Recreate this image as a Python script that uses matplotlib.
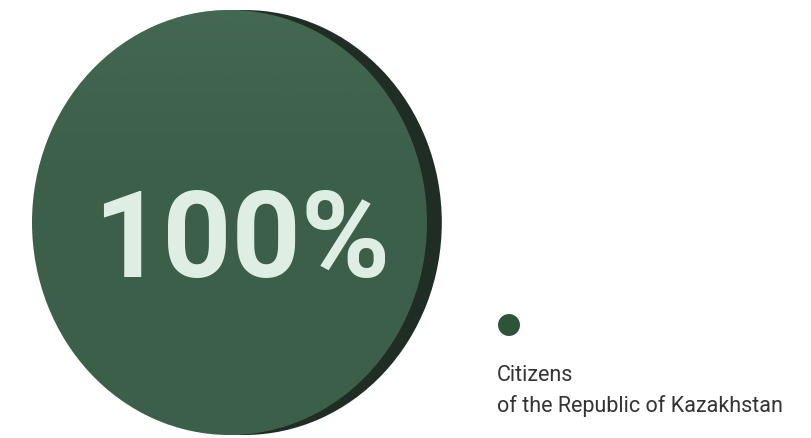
import matplotlib
matplotlib.use("Agg")
import matplotlib.pyplot as plt
import numpy as np

# share of residents by citizenship
categories = ["Citizens", "of the Republic of Kazakhstan"]
shares = [100]
value_labels = ["100%"]

face_color = "#3c5f49"
side_color = "#1f2d24"
dot_color = "#2d5438"

plt.rcParams['font.family'] = ['Roboto', 'DejaVu Sans']

fig = plt.figure(figsize=(8.11, 4.38), dpi=100)

# pie axes sized to the disc, so the unit radius becomes a slightly tall ellipse
ax = fig.add_axes([32 / 811, 3 / 438, 395 / 811, 425 / 438])
ax.set_xlim(-1, 1)
ax.set_ylim(-1, 1)
ax.set_aspect('auto')
ax.axis('off')

# dark extruded rim, offset to the right
side, _ = ax.pie(shares, colors=[side_color], center=(0.075, 0.0), radius=1.0,
                 startangle=90, frame=False)
for w in side:
    w.set_clip_on(False)

wedges, _ = ax.pie(shares, colors=[face_color], radius=1.0, startangle=90,
                   frame=False)
for w in wedges:
    w.set_clip_on(False)

# soft vertical shading on the face
grad = np.linspace(0, 1, 256)
shade = np.clip(1 - grad * 2.2, 0, 1) ** 1.5
img = np.zeros((256, 1, 4))
img[:, 0, 0] = 0x4a / 255
img[:, 0, 1] = 0x70 / 255
img[:, 0, 2] = 0x5a / 255
img[:, 0, 3] = shade * 0.55
im = ax.imshow(img, extent=(-1, 1, -1, 1), origin='upper', aspect='auto',
               zorder=3, interpolation='bilinear')
im.set_clip_path(wedges[0])
ax.set_xlim(-1, 1)
ax.set_ylim(-1, 1)

ax.text(0.06, -0.1, value_labels[0], ha='center', va='center',
        fontsize=87, fontweight='bold', color='#dfeee2', zorder=5)

# legend entry: dot above the label
lax = fig.add_axes([0, 0, 1, 1])
lax.set_xlim(0, 811)
lax.set_ylim(438, 0)
lax.axis('off')
lax.scatter([509], [325], s=250, color=dot_color, edgecolors='none')
for i, line in enumerate(categories):
    lax.text(497, 381 + i * 31, line, ha='left', va='baseline', fontsize=15.5,
             color='#333333')

fig.savefig("out.png", dpi=100)
